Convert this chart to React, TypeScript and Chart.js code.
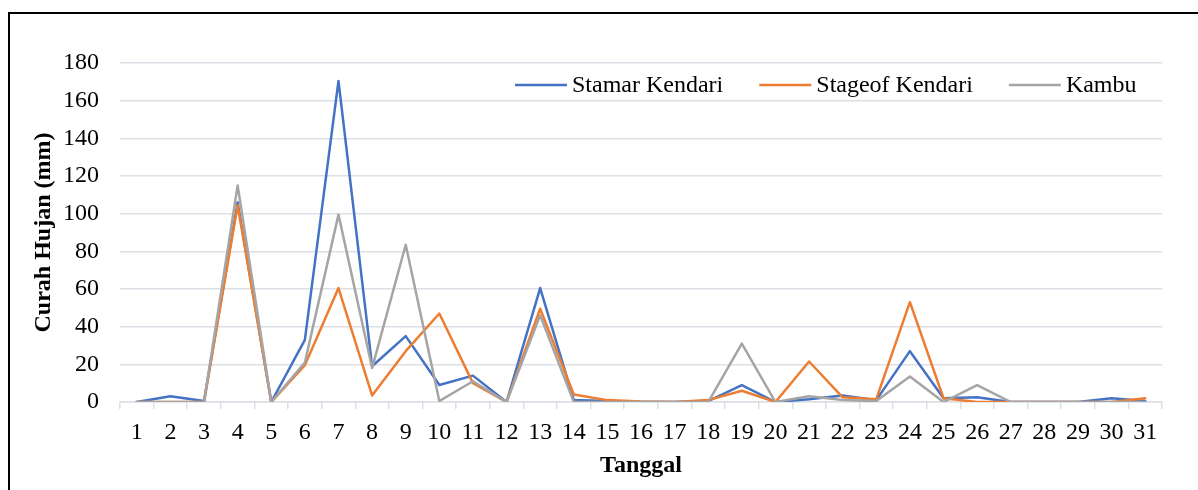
import React, { useEffect, useRef } from "react";
import { Chart, registerables } from "chart.js";

Chart.register(...registerables);

const days = ["1","2","3","4","5","6","7","8","9","10","11","12","13","14","15","16","17","18","19","20","21","22","23","24","25","26","27","28","29","30","31"];

const stamarKendari = [0, 3, 0.5, 106, 0, 33, 170.5, 19, 35, 9, 14, 0, 60.5, 1, 0.5, 0, 0, 0.5, 9, 0, 1.5, 3.5, 1, 27, 2, 2.5, 0, 0, 0, 2, 0.5];
const stageofKendari = [0, 0, 0, 104.5, 0, 19.5, 60.5, 3.5, 27, 47, 10, 0, 49.5, 4, 1, 0.3, 0, 1, 6, 0, 21.5, 2.5, 1.5, 53, 2, 0, 0, 0, 0, 0, 2];
const kambu = [0, 0, 0, 115, 0, 21, 99.5, 18, 83.5, 0.5, 11, 0, 46, 0, 0, 0, 0, 0, 31, 0, 3, 1, 0.5, 13.5, 0, 9, 0, 0, 0, 0, 0];

const seriesNames = ["Stamar Kendari", "Stageof Kendari", "Kambu"];
const seriesColors = ["#4472C4", "#ED7D31", "#A5A5A5"];

const yTicks = [0, 20, 40, 60, 80, 100, 120, 140, 160, 180];
const xTitle = "Tanggal";
const yTitle = "Curah Hujan (mm)";

const FONT = '"Liberation Serif", "Times New Roman", serif';
const GRID = "#DCE0E6";
const FS = 24;

const overlayPlugin = {
  id: "overlay",
  afterDraw(chart: any) {
    const ctx = chart.ctx;
    const { left, right, top, bottom } = chart.chartArea;
    ctx.save();
    ctx.fillStyle = "#000";
    ctx.font = `bold ${FS}px ${FONT}`;
    ctx.textAlign = "center";
    ctx.textBaseline = "middle";
    ctx.fillText(xTitle, (left + right) / 2, 466);
    ctx.save();
    ctx.translate(44, (top + bottom) / 2);
    ctx.rotate(-Math.PI / 2);
    ctx.fillText(yTitle, 0, 0);
    ctx.restore();

    // legend
    ctx.font = `${FS}px ${FONT}`;
    ctx.textAlign = "left";
    let x = 515;
    const y = 85;
    seriesNames.forEach((name, i) => {
      ctx.strokeStyle = seriesColors[i];
      ctx.lineWidth = 2.5;
      ctx.beginPath();
      ctx.moveTo(x, y);
      ctx.lineTo(x + 52, y);
      ctx.stroke();
      x += 57;
      ctx.fillStyle = "#000";
      ctx.fillText(name, x, y + 1);
      x += ctx.measureText(name).width + 36;
    });
    ctx.restore();
  },
};

export default function App() {
  const ref = useRef<HTMLCanvasElement | null>(null);

  useEffect(() => {
    if (!ref.current) return;
    const dataSets = [stamarKendari, stageofKendari, kambu];
    const chart = new Chart(ref.current, {
      type: "line",
      data: {
        labels: days,
        datasets: dataSets.map((d, i) => ({
          label: seriesNames[i],
          data: d,
          borderColor: seriesColors[i],
          backgroundColor: seriesColors[i],
          borderWidth: 2.5,
          pointRadius: 0,
          tension: 0,
          fill: false,
          borderJoinStyle: "round" as const,
          borderCapStyle: "round" as const,
          order: 3 - i,
        })),
      },
      options: {
        responsive: false,
        maintainAspectRatio: false,
        animation: false,
        layout: { padding: { left: 0, right: 36, top: 63, bottom: 0 } },
        plugins: {
          legend: { display: false },
          tooltip: { enabled: false },
          title: { display: false },
        },
        scales: {
          x: {
            type: "category",
            offset: true,
            grid: {
              display: true,
              drawOnChartArea: false,
              drawTicks: true,
              tickLength: 7,
              color: GRID,
              lineWidth: 1.5,
              offset: true,
            },
            border: { display: true, color: GRID, width: 1.5 },
            ticks: {
              color: "#000",
              font: { family: FONT, size: FS },
              padding: 9,
              maxRotation: 0,
              autoSkip: false,
            },
            afterFit: (scale: any) => {
              scale.height = 88;
            },
          },
          y: {
            min: 0,
            max: 180,
            afterBuildTicks: (scale: any) => {
              scale.ticks = yTicks.map((v) => ({ value: v }));
            },
            grid: {
              color: GRID,
              lineWidth: 1.5,
              drawTicks: false,
            },
            border: { display: false },
            ticks: {
              color: "#000",
              font: { family: FONT, size: FS },
              padding: 21,
            },
            afterFit: (scale: any) => {
              scale.width = 120;
            },
          },
        },
      },
      plugins: [overlayPlugin],
    });
    return () => chart.destroy();
  }, []);

  return (
    <div style={{ position: "fixed", left: 0, top: 0, width: 1198, height: 490, background: "#fff", overflow: "hidden" }}>
      <div
        style={{
          position: "absolute",
          left: 8,
          top: 12,
          right: 0,
          bottom: 0,
          borderTop: "2px solid #000",
          borderLeft: "2px solid #000",
        }}
      />
      <canvas ref={ref} width={1198} height={490} style={{ position: "absolute", left: 0, top: 0, width: 1198, height: 490 }} />
    </div>
  );
}
